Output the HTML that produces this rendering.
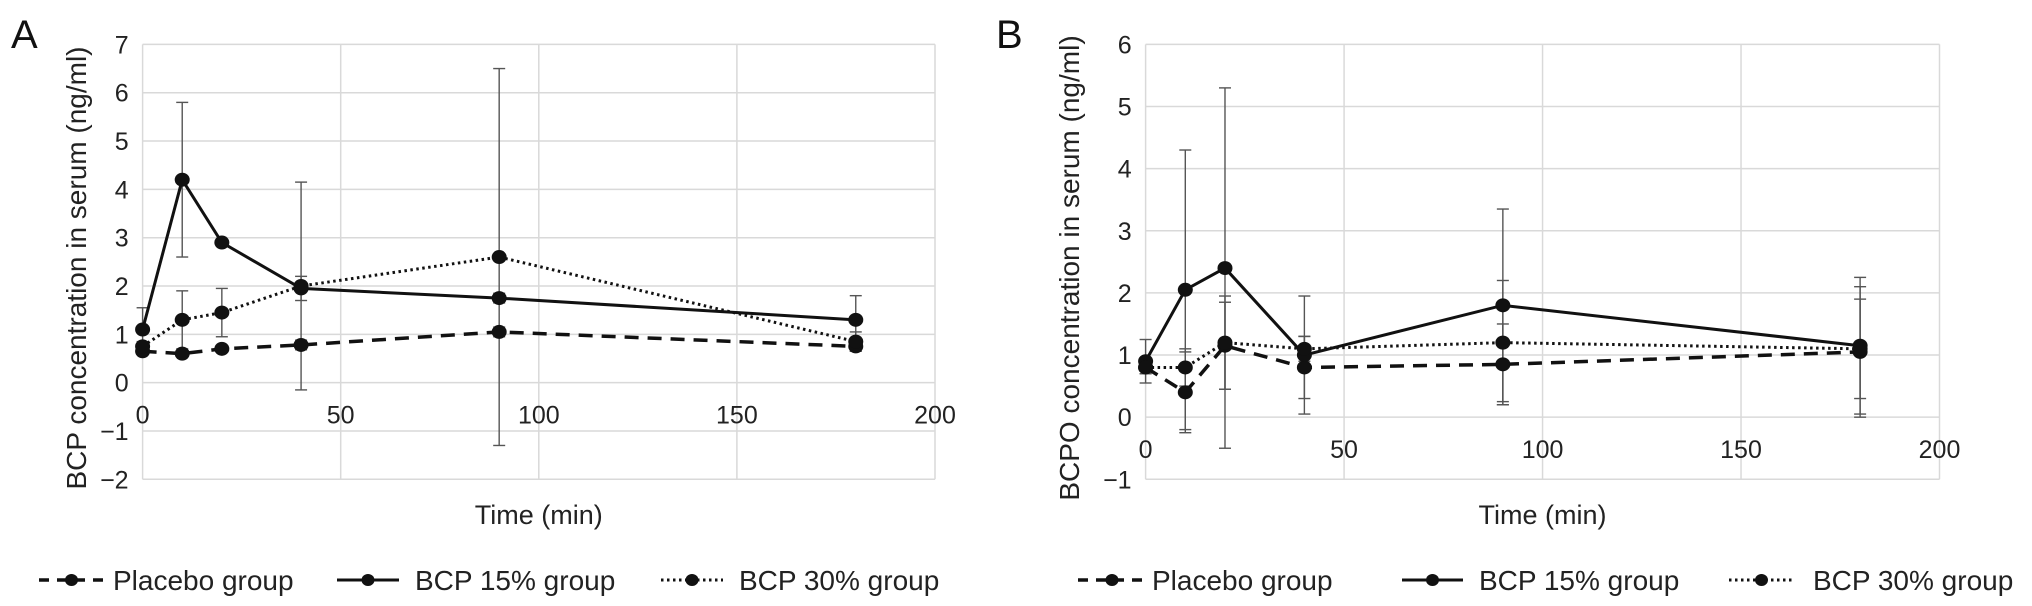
<!DOCTYPE html>
<html><head><meta charset="utf-8"><style>
html,body{margin:0;padding:0;background:#fff;}
svg{display:block;font-family:"Liberation Sans",sans-serif;}
</style></head><body>
<svg id="chart" width="2032" height="606" viewBox="0 0 2032 606" xmlns="http://www.w3.org/2000/svg"></svg>
<script>
const timesMin = [0, 10, 20, 40, 90, 180];
const xTicks = [0, 50, 100, 150, 200];
const seriesNames = ["Placebo group", "BCP 15% group", "BCP 30% group"];
// Panel A
const aPlacebo = [0.65, 0.6, 0.7, 0.78, 1.05, 0.75];
const aPlaceboErr = [0.05, 0.05, 0.05, 0.1, 0.1, 0.1];
const aBcp15 = [1.1, 4.2, 2.9, 1.95, 1.75, 1.3];
const aBcp15Err = [0.45, 1.6, 0.05, 0.25, 0.1, 0.5];
const aBcp30 = [0.75, 1.3, 1.45, 2.0, 2.6, 0.85];
const aBcp30Err = [0.1, 0.6, 0.5, 2.15, 3.9, 0.2];
const aYTicks = [-2, -1, 0, 1, 2, 3, 4, 5, 6, 7];
// Panel B
const bPlacebo = [0.8, 0.4, 1.15, 0.8, 0.85, 1.05];
const bPlaceboErr = [0.1, 0.65, 0.7, 0.5, 0.65, 1.05];
const bBcp15 = [0.9, 2.05, 2.4, 1.0, 1.8, 1.15];
const bBcp15Err = [0.35, 2.25, 2.9, 0.95, 1.55, 1.1];
const bBcp30 = [0.8, 0.8, 1.2, 1.1, 1.2, 1.1];
const bBcp30Err = [0.1, 0.3, 0.75, 0.2, 1.0, 0.8];
const bYTicks = [-1, 0, 1, 2, 3, 4, 5, 6];

const NS = "http://www.w3.org/2000/svg";
const svg = document.getElementById("chart");
function mk(tag, attrs, parent, text) {
  const e = document.createElementNS(NS, tag);
  for (const k in attrs) e.setAttribute(k, attrs[k]);
  if (text !== undefined) e.textContent = text;
  (parent || svg).appendChild(e);
  return e;
}
const styles = [
  {dash: "14 9", w: 3.5},
  {dash: "none", w: 3},
  {dash: "2.5 3.5", w: 3}
];

function panel(p) {
  const g = mk("g", {});
  
  
  const yMin = p.yTicks[0], yMax = p.yTicks[p.yTicks.length - 1];
  const X = v => p.x0 + (v - 0) / 200 * (p.x1 - p.x0);
  const Y = v => p.yTop + (yMax - v) / (yMax - yMin) * (p.yBot - p.yTop);
  p.yTicks.forEach(t => {
    const l = mk("line", {x1: X(0), x2: X(200), y1: Y(t), y2: Y(t), stroke: "#d9d9d9", "stroke-width": 1.5}, g);
    
    
    const tx = mk("text", {x: p.x0 - 14, y: Y(t) + 9, "text-anchor": "end", "font-size": 25, fill: "#222"}, g, t < 0 ? "\u2212" + (-t) : String(t));
    
    
  });
  xTicks.forEach(t => {
    const l = mk("line", {x1: X(t), x2: X(t), y1: Y(yMax), y2: Y(yMin), stroke: "#d9d9d9", "stroke-width": 1.5}, g);
    
    
    const tx = mk("text", {x: X(t), y: Y(0) + 41, "text-anchor": "middle", "font-size": 25, fill: "#222"}, g, String(t));
    
    
  });
  p.series.forEach((s, si) => {
    s.vals.forEach((v, i) => {
      const e = s.err[i];
      if (e < 0.08) return;
      const x = X(timesMin[i]);
      const eg = mk("g", {stroke: "#555", "stroke-width": 1.4}, g);
      
      
      mk("line", {x1: x, x2: x, y1: Y(v + e), y2: Y(v - e)}, eg);
      mk("line", {x1: x - 6, x2: x + 6, y1: Y(v + e), y2: Y(v + e)}, eg);
      mk("line", {x1: x - 6, x2: x + 6, y1: Y(v - e), y2: Y(v - e)}, eg);
    });
  });
  p.series.forEach((s, si) => {
    const st = styles[si];
    const pts = s.vals.map((v, i) => X(timesMin[i]) + "," + Y(v)).join(" ");
    const pl = mk("polyline", {points: pts, fill: "none", stroke: "#111", "stroke-width": st.w, "stroke-dasharray": st.dash}, g);
    
    
    s.vals.forEach((v, i) => {
      const c = mk("ellipse", {cx: X(timesMin[i]), cy: Y(v), rx: 7.5, ry: 7, fill: "#111"}, g);
      
      
    });
  });
  const yt = mk("text", {x: 0, y: 0, "text-anchor": "middle", "font-size": 28, fill: "#222", transform: `translate(${p.yTitleX},268) rotate(-90)`}, g, p.yTitle);
  
  
  const xt = mk("text", {x: (p.x0 + p.x1) / 2, y: 524, "text-anchor": "middle", "font-size": 27, fill: "#222"}, g, "Time (min)");
  
  
  const lab = mk("text", {x: p.labelX, y: 48, "font-size": 40, fill: "#111"}, g, p.key === "a" ? "A" : "B");
  
  
  p.legend.forEach((L, si) => {
    const lg = mk("g", {}, g);
    
    
    const st = styles[si];
    mk("line", {x1: L[0], x2: L[1], y1: 580, y2: 580, stroke: "#111", "stroke-width": st.w, "stroke-dasharray": st.dash === "14 9" ? "10 8" : st.dash}, lg);
    mk("ellipse", {cx: (L[0] + L[1]) / 2, cy: 580, rx: 6.5, ry: 6, fill: "#111"}, lg);
    mk("text", {x: L[2], y: 590, "font-size": 28, fill: "#222"}, lg, seriesNames[si]);
  });
}
panel({key: "a", x0: 142.6, x1: 935, yTop: 44.4, yBot: 479.3, yTicks: aYTicks, yTitleX: 86, labelX: 11,
  yTitle: "BCP concentration in serum (ng/ml)",
  series: [{vals: aPlacebo, err: aPlaceboErr}, {vals: aBcp15, err: aBcp15Err}, {vals: aBcp30, err: aBcp30Err}],
  legend: [[39, 104, 113], [337, 399, 415], [661, 723, 739]]});
panel({key: "b", x0: 1145.6, x1: 1939.5, yTop: 44.4, yBot: 479.3, yTicks: bYTicks, yTitleX: 1079, labelX: 996,
  yTitle: "BCPO concentration in serum (ng/ml)",
  series: [{vals: bPlacebo, err: bPlaceboErr}, {vals: bBcp15, err: bBcp15Err}, {vals: bBcp30, err: bBcp30Err}],
  legend: [[1078, 1146, 1152], [1402, 1463, 1479], [1729, 1794, 1813]]});
</script>
</body></html>
